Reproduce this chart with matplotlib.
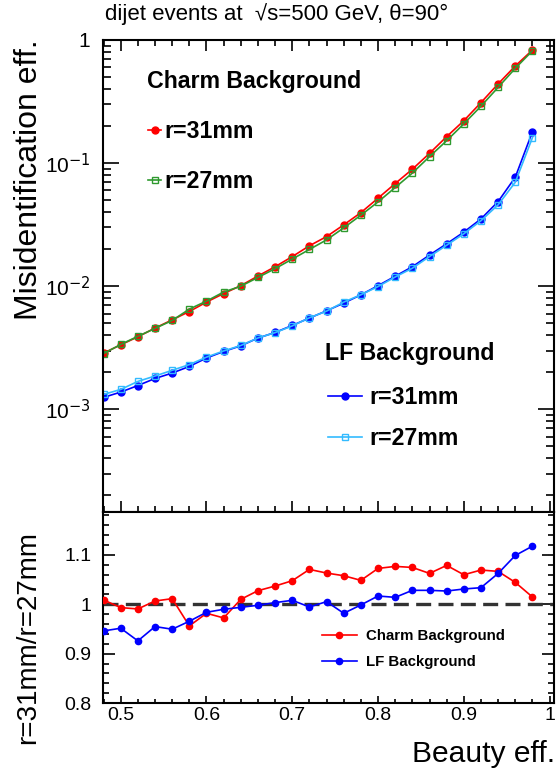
import math
import matplotlib
matplotlib.use('Agg')
import matplotlib.pyplot as plt
from matplotlib.ticker import MultipleLocator, LogLocator, FuncFormatter, NullFormatter, FormatStrFormatter

plt.rcParams['font.family'] = ['Liberation Sans', 'DejaVu Sans']
plt.rcParams['mathtext.fontset'] = 'custom'
plt.rcParams['mathtext.rm'] = 'Liberation Sans'
plt.rcParams['mathtext.default'] = 'regular'

# Data
beauty_eff = [0.48, 0.50, 0.52, 0.54, 0.56, 0.58, 0.60, 0.62, 0.64, 0.66, 0.68, 0.70, 0.72,
              0.74, 0.76, 0.78, 0.80, 0.82, 0.84, 0.86, 0.88, 0.90, 0.92, 0.94, 0.96, 0.98]

charm_r31 = [2.86e-3, 3.34e-3, 3.88e-3, 4.57e-3, 5.33e-3, 6.23e-3, 7.43e-3, 8.72e-3, 1.01e-2,
             1.21e-2, 1.44e-2, 1.74e-2, 2.13e-2, 2.53e-2, 3.15e-2, 3.96e-2, 5.19e-2, 6.82e-2,
             8.92e-2, 0.120, 0.164, 0.221, 0.310, 0.440, 0.615, 0.829]
charm_r27 = [2.835e-3, 3.363e-3, 3.917e-3, 4.540e-3, 5.270e-3, 6.515e-3, 7.568e-3, 8.967e-3,
             1.000e-2, 1.178e-2, 1.389e-2, 1.661e-2, 1.989e-2, 2.379e-2, 2.978e-2, 3.777e-2,
             4.838e-2, 6.334e-2, 8.300e-2, 0.1129, 0.1520, 0.2085, 0.2899, 0.4125, 0.5889, 0.8169]

lf_r31 = [1.25e-3, 1.38e-3, 1.56e-3, 1.78e-3, 1.97e-3, 2.23e-3, 2.61e-3, 2.95e-3, 3.28e-3,
          3.79e-3, 4.21e-3, 4.80e-3, 5.51e-3, 6.31e-3, 7.29e-3, 8.51e-3, 1.01e-2, 1.205e-2,
          1.44e-2, 1.79e-2, 2.21e-2, 2.75e-2, 3.52e-2, 4.87e-2, 7.68e-2, 0.180]
lf_r27 = [1.321e-3, 1.450e-3, 1.685e-3, 1.864e-3, 2.075e-3, 2.309e-3, 2.653e-3, 2.980e-3,
          3.300e-3, 3.798e-3, 4.196e-3, 4.761e-3, 5.540e-3, 6.276e-3, 7.425e-3, 8.521e-3,
          9.933e-3, 1.188e-2, 1.400e-2, 1.741e-2, 2.152e-2, 2.667e-2, 3.405e-2, 4.583e-2,
          6.988e-2, 0.1610]

charm_ratio = [1.0088, 0.9933, 0.9906, 1.0067, 1.0114, 0.9562, 0.9818, 0.9724, 1.0101, 1.0276,
               1.0370, 1.0478, 1.0707, 1.0633, 1.0579, 1.0485, 1.0727, 1.0768, 1.0747, 1.0626,
               1.0788, 1.0599, 1.0694, 1.0667, 1.0444, 1.0148]
lf_ratio = [0.9461, 0.9515, 0.9259, 0.9549, 0.9495, 0.9657, 0.9838, 0.9899, 0.9939, 0.9980,
            1.0034, 1.0081, 0.9946, 1.0054, 0.9818, 0.9987, 1.0168, 1.0141, 1.0283, 1.0283,
            1.0269, 1.0310, 1.0337, 1.0626, 1.0990, 1.1178]

RED = '#ff0000'
GREEN = '#2f9a2f'
BLUE = '#0000ff'
LIGHTBLUE = '#33bbff'

fig = plt.figure(figsize=(5.57, 7.69), dpi=100)
ax1 = fig.add_axes([0.1844, 0.3342, 0.810, 0.6138])
ax2 = fig.add_axes([0.1844, 0.0858, 0.810, 0.2484])

# upper panel
l_c31, = ax1.plot(beauty_eff, charm_r31, color=RED, marker='o', ms=5, lw=1.2)
l_c27, = ax1.plot(beauty_eff, charm_r27, color=GREEN, marker='s', ms=5, mfc='none', mew=1.0, lw=1.2)
l_l31, = ax1.plot(beauty_eff, lf_r31, color=BLUE, marker='o', ms=5, lw=1.2)
l_l27, = ax1.plot(beauty_eff, lf_r27, color=LIGHTBLUE, marker='s', ms=5, mfc='none', mew=1.0, lw=1.2)

ax1.set_yscale('log')
ax1.set_ylim(1.465e-4, 1.0)
ax1.set_xlim(0.479, 1.005)


def log_label(v, pos):
    if abs(v - 1) < 1e-9:
        return '1'
    return r'$10^{\mathsf{-%d}}$' % round(-math.log10(v))


ax1.yaxis.set_major_locator(LogLocator(base=10, numticks=10))
ax1.yaxis.set_minor_locator(LogLocator(base=10, subs=range(2, 10), numticks=20))
ax1.yaxis.set_major_formatter(FuncFormatter(log_label))
ax1.yaxis.set_minor_formatter(NullFormatter())
ax1.xaxis.set_major_locator(MultipleLocator(0.1))
ax1.xaxis.set_minor_locator(MultipleLocator(0.02))
ax1.tick_params(axis='both', which='both', direction='in', top=True, right=True,
                labelbottom=False, width=1.2)
ax1.tick_params(axis='y', which='major', length=11.5, labelsize=15, pad=9)
ax1.tick_params(axis='y', which='minor', length=6)
ax1.tick_params(axis='x', which='major', length=8)
ax1.tick_params(axis='x', which='minor', length=4)

leg1 = ax1.legend([l_c31, l_c27], ['r=31mm', 'r=27mm'], loc='upper left',
                  bbox_to_anchor=(0.1004, 0.8311), frameon=False,
                  prop={'weight': 'bold', 'size': 16.7}, handlelength=0.56,
                  handletextpad=0.13, labelspacing=1.17, borderpad=0, borderaxespad=0,
                  numpoints=1)
ax1.add_artist(leg1)
ax1.legend([l_l31, l_l27], ['r=31mm', 'r=27mm'], loc='upper left',
           bbox_to_anchor=(0.4992, 0.2672), frameon=False,
           prop={'weight': 'bold', 'size': 16.7}, handlelength=1.45,
           handletextpad=0.33, labelspacing=0.8, borderpad=0, borderaxespad=0,
           numpoints=1)
ax1.text(0.0975, 0.9117, 'Charm Background', transform=ax1.transAxes, ha='left',
         va='center', fontsize=16.7, fontweight='bold')
ax1.text(0.4926, 0.3362, 'LF Background', transform=ax1.transAxes, ha='left',
         va='center', fontsize=16.7, fontweight='bold')

# ratio panel
r_c, = ax2.plot(beauty_eff, charm_ratio, color=RED, marker='o', ms=4.5, lw=1.2, zorder=3)
r_l, = ax2.plot(beauty_eff, lf_ratio, color=BLUE, marker='o', ms=4.5, lw=1.2, zorder=3)
ax2.axhline(1.0, color='#333333', lw=2.4, ls=(0, (4.5, 2.2)), zorder=2)
ax2.set_xlim(0.479, 1.005)
ax2.set_ylim(0.8, 1.187)
ax2.xaxis.set_major_locator(MultipleLocator(0.1))
ax2.xaxis.set_minor_locator(MultipleLocator(0.02))
ax2.yaxis.set_major_locator(MultipleLocator(0.1))
ax2.yaxis.set_minor_locator(MultipleLocator(0.02))
ax2.xaxis.set_major_formatter(FormatStrFormatter('%g'))
ax2.yaxis.set_major_formatter(FormatStrFormatter('%g'))
ax2.tick_params(axis='both', which='both', direction='in', right=True, top=False, width=1.2)
ax2.tick_params(axis='y', which='major', length=8.5, labelsize=14, pad=8)
ax2.tick_params(axis='y', which='minor', length=4.5)
ax2.tick_params(axis='x', which='major', length=5, labelsize=14, pad=3)
ax2.tick_params(axis='x', which='minor', length=3)
ax2.legend([r_c, r_l], ['Charm Background', 'LF Background'], loc='upper left',
           bbox_to_anchor=(0.4866, 0.385), frameon=False,
           prop={'weight': 'bold', 'size': 10.8}, handlelength=2.29,
           handletextpad=0.62, labelspacing=0.78, borderpad=0, borderaxespad=0,
           numpoints=1)

for ax in (ax1, ax2):
    for sp in ax.spines.values():
        sp.set_linewidth(1.5)

W, H = 557.0, 769.0
fig.text(105 / W, 1 - 20 / H, 'dijet events at  √s=500 GeV, θ=90°', ha='left',
         va='baseline', fontsize=16)
fig.text(29 / W, 1 - 180 / H, 'Misidentification eff.', rotation=90, ha='center',
         va='center', fontsize=23)
fig.text(28 / W, 1 - 637 / H, 'r=31mm/r=27mm', rotation=90, ha='center',
         va='center', fontsize=20)
fig.text(555 / W, 1 - 762 / H, 'Beauty eff.', ha='right', va='baseline', fontsize=21.6)

fig.savefig('out.png', dpi=100)
